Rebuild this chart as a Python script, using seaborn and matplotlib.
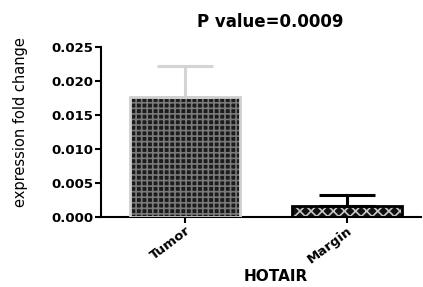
import matplotlib
matplotlib.use("Agg")
import matplotlib.pyplot as plt
import seaborn as sns

# values
groups = ["Tumor", "Margin"]
means = [0.0176, 0.0016]
sem = [0.0046, 0.0016]
edge_colors = ["#cfcfcf", "#000000"]
err_colors = ["#d4d4d4", "#000000"]
face_colors = ["#1c1c1c", "#111111"]
hatch_colors = ["#7a7a7a", "#c8c8c8"]
hatches = ["+++", "xxx"]

sns.set_style("ticks")
plt.rcParams["font.family"] = ["DejaVu Sans"]
plt.rcParams["hatch.linewidth"] = 1.2
plt.rcParams["text.color"] = "black"
plt.rcParams["axes.labelcolor"] = "black"
plt.rcParams["xtick.color"] = "black"
plt.rcParams["ytick.color"] = "black"

fig = plt.figure(figsize=(4.23, 2.87), dpi=100)
ax = fig.add_axes([0.239, 0.245, 0.756, 0.592])

sns.barplot(x=groups, y=means, ax=ax, color="#3c3c3c", width=0.68,
            errorbar=None, saturation=1)

for bar, ec, fc, hc, h in zip(ax.patches, edge_colors, face_colors,
                              hatch_colors, hatches):
    bar.set_facecolor(fc)
    bar.set_hatch(h)
    bar.set_edgecolor(hc)
    bar.set_linewidth(0)
    # border drawn on top
    ax.add_patch(plt.Rectangle(bar.get_xy(), bar.get_width(), bar.get_height(),
                               fill=False, edgecolor=ec, linewidth=2, zorder=3))

for i, (m, e, c) in enumerate(zip(means, sem, err_colors)):
    ax.errorbar(i, m, yerr=[[0], [e]], color=c, capsize=20, capthick=2.2,
                elinewidth=2.2, zorder=1)

ax.set_xlim(-0.52, 1.457)
ax.set_ylim(0, 0.025)
ax.set_yticks([0, 0.005, 0.010, 0.015, 0.020, 0.025])
ax.set_yticklabels(["0.000", "0.005", "0.010", "0.015", "0.020", "0.025"],
                   fontsize=9.5, fontweight="bold")
ax.set_xticks([0, 1])
ax.set_xticklabels(groups, rotation=37, ha="right", rotation_mode="anchor",
                   fontsize=9.5, fontweight="bold")
ax.tick_params(axis="both", length=4.5, width=1.5, color="black", pad=1)

sns.despine(ax=ax)
for s in ["left", "bottom"]:
    ax.spines[s].set_linewidth(1.5)
    ax.spines[s].set_color("black")

ax.set_title("P value=0.0009", fontsize=12, fontweight="bold",
             x=0.528, y=1.0, pad=14)
ax.set_xlabel("HOTAIR", fontsize=11, fontweight="bold")
ax.xaxis.set_label_coords(0.545, -0.305)
ax.set_ylabel("expression fold change", fontsize=10.5)
ax.yaxis.set_label_coords(-0.23, 0.557)

fig.savefig("out.png", dpi=100)
